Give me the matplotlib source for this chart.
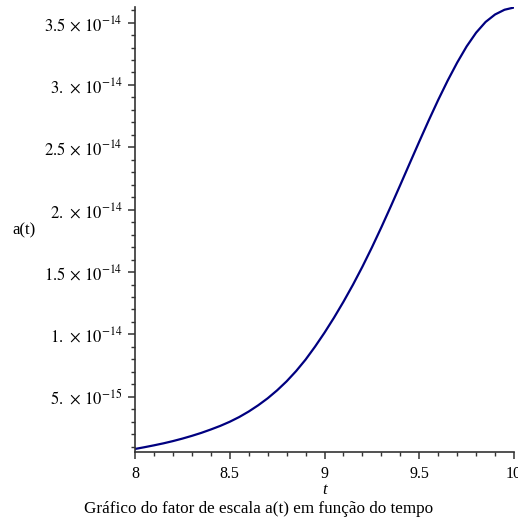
import matplotlib
matplotlib.use('Agg')
import matplotlib.pyplot as plt
from matplotlib.ticker import MultipleLocator

# a(t) sampled along t (values in 1e-15 units)
t = [8.00, 8.05, 8.10, 8.15, 8.20, 8.25, 8.30, 8.35, 8.40, 8.45,
     8.50, 8.55, 8.60, 8.65, 8.70, 8.75, 8.80, 8.85, 8.90, 8.95,
     9.00, 9.05, 9.10, 9.15, 9.20, 9.25, 9.30, 9.35, 9.40, 9.45,
     9.50, 9.55, 9.60, 9.65, 9.70, 9.75, 9.80, 9.85, 9.90, 9.95, 10.00]
a_t = [0.82, 0.96, 1.11, 1.27, 1.45, 1.65, 1.87, 2.11, 2.38, 2.67,
       3.00, 3.38, 3.82, 4.32, 4.88, 5.52, 6.24, 7.06, 7.98, 9.02,
       10.14, 11.34, 12.62, 13.98, 15.43, 16.97, 18.59, 20.27, 21.99, 23.73,
       25.46, 27.16, 28.80, 30.35, 31.79, 33.09, 34.19, 35.05, 35.65, 36.03, 36.21]
a_t = [v * 1e-15 for v in a_t]

xticks = [8, 8.5, 9, 9.5, 10]
xtick_labels = ['8', '8.5', '9', '9.5', '10']
yticks = [5e-15, 1e-14, 1.5e-14, 2e-14, 2.5e-14, 3e-14, 3.5e-14]
ytick_labels = [r'$5.\,\times\,10^{-15}$', r'$1.\,\times\,10^{-14}$', r'$1.5\,\times\,10^{-14}$',
                r'$2.\,\times\,10^{-14}$', r'$2.5\,\times\,10^{-14}$', r'$3.\,\times\,10^{-14}$',
                r'$3.5\,\times\,10^{-14}$']

plt.rcParams['font.family'] = ['Liberation Serif', 'DejaVu Serif']
plt.rcParams['mathtext.fontset'] = 'stix'

fig = plt.figure(figsize=(5.18, 5.26), dpi=100)
ax = fig.add_axes([135 / 518, 74 / 526, 379 / 518, 445 / 526])

ax.plot(t, a_t, color='#000080', linewidth=1.6)

ax.set_xlim(8, 10)
ax.set_ylim(0.576e-15, 36.25e-15)

ax.set_xticks(xticks)
ax.set_xticklabels(xtick_labels)
ax.set_yticks(yticks)
ax.set_yticklabels(ytick_labels)
ax.xaxis.set_minor_locator(MultipleLocator(0.1))
ax.yaxis.set_minor_locator(MultipleLocator(1e-15))

for side in ['top', 'right']:
    ax.spines[side].set_visible(False)
for side in ['left', 'bottom']:
    ax.spines[side].set_linewidth(1.2)
    ax.spines[side].set_color('#333333')

ax.tick_params(which='major', direction='out', length=5, width=1.1,
               color='#333333', labelsize=11.5, pad=5)
ax.tick_params(axis='y', which='major', labelsize=12, pad=4)
ax.tick_params(which='minor', direction='out', length=3, width=1.0,
               color='#333333')

ax.set_xlabel('t', fontstyle='italic', fontsize=12, labelpad=0)
fig.text(24 / 518, 1 - 230 / 526, 'a(t)', fontsize=12, ha='center', va='center')
fig.text(0.5, 1 - 509 / 526, 'Gráfico do fator de escala a(t) em função do tempo',
         fontsize=12.3, ha='center', va='center')

fig.savefig('out.png', dpi=100)
